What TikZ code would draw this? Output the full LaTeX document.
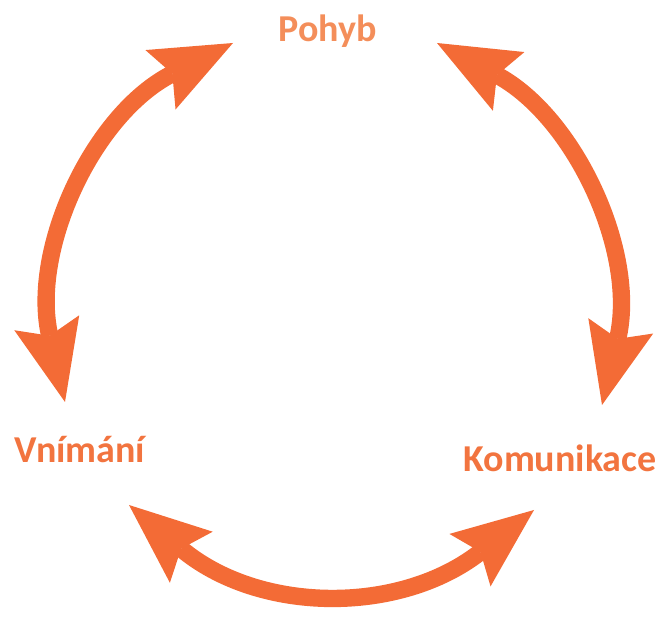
\documentclass[tikz,border=0pt]{standalone}
\usepackage{fontspec}
\setmainfont{Carlito}
\usetikzlibrary{arrows.meta}
\definecolor{arrowor}{HTML}{F36B36}
\definecolor{textor}{HTML}{F2743F}
\definecolor{textlight}{HTML}{F48E5A}
\begin{document}
\begin{tikzpicture}[x=0.75pt,y=-0.75pt,
  link/.style={draw=arrowor, line width=13pt,
    {Stealth[length=61pt,width=50pt,inset=10pt,line width=0pt]}-{Stealth[length=61pt,width=50pt,inset=10pt,line width=0pt]}},
  lbl/.style={font=\bfseries\fontsize{28.5pt}{30pt}\selectfont, inner sep=0pt, anchor=base}]
\useasboundingbox (0,0) rectangle (662,623);
\node[lbl, text=textlight] (pohyb) at (328,42) {Pohyb};
\node[lbl, text=textor] (vnimani) at (80,463) {Vnímání};
\node[lbl, text=textor] (komunikace) at (560,472) {Komunikace};
\coordinate (l1) at (233,43);
\coordinate (l2) at (65,402);
\coordinate (r1) at (437,43);
\coordinate (r2) at (602,405);
\coordinate (b1) at (129,505);
\coordinate (b2) at (534,510);
\draw[link] (l1) .. controls +(-140,71) and +(-35,-152) .. (l2);
\draw[link] (r1) .. controls +(138,74) and +(36,-152) .. (r2);
\draw[link] (b1) .. controls +(130,109) and +(-134,105) .. (b2);
\end{tikzpicture}
\end{document}
